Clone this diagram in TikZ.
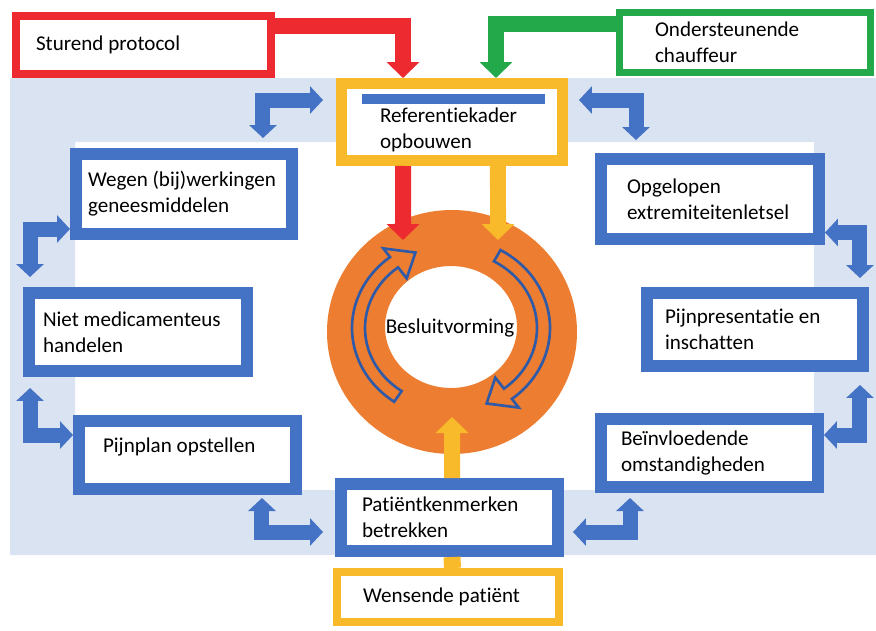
\documentclass[tikz,border=0pt]{standalone}
\usepackage{fontspec}
\setmainfont{Carlito}[Ligatures=CommonOff]
\usetikzlibrary{arrows.meta}
\hyphenpenalty=10000

\definecolor{kaderblauw}{HTML}{4472C4}
\definecolor{lijnblauw}{HTML}{2E5AA8}
\definecolor{achtergrond}{HTML}{DAE3F1}
\definecolor{protocolrood}{HTML}{EC2A2F}
\definecolor{chauffeurgroen}{HTML}{23A94A}
\definecolor{patientgeel}{HTML}{F8B92A}
\definecolor{ringoranje}{HTML}{ED7D31}

\begin{document}
\begin{tikzpicture}[x=0.02cm, y=-0.02cm,
    tekst/.style={font=\fontsize{12}{14.7}\selectfont},
    blok/.style={tekst, draw=kaderblauw, line width=0.24cm, fill=white, align=left, inner sep=2pt,
      execute at begin node={\spaceskip=0pt\xspaceskip=0pt\relax}},
    pijl/.style={draw=kaderblauw, line width=0.3cm, line join=miter,
      {Triangle[width=0.54cm,length=0.26cm]}-{Triangle[width=0.54cm,length=0.26cm]}},
    blokpijl/.style={line width=0.32cm, line join=miter, -{Triangle[width=0.64cm,length=0.32cm]}},
    draaipijl/.style={fill=ringoranje, draw=lijnblauw, line width=1.5pt, shift={(451,328)}}]

    \useasboundingbox (0,0) rectangle (876,630);

    % Achtergrondkader
    \fill[achtergrond, even odd rule] (10,78) rectangle (876,555) (75,142) rectangle (814,490);

    % Ring besluitvorming
    \fill[ringoranje, even odd rule] (452,332) ellipse [x radius=125, y radius=122]
        (451,327) ellipse [x radius=66, y radius=61];
    \filldraw[draaipijl] (125:99 and 90) arc[start angle=125, end angle=232, x radius=99, y radius=90]
        -- (232:110 and 101) -- (247:91 and 82) -- (232:72 and 63) -- (232:86 and 77)
        arc[start angle=232, end angle=125, x radius=86, y radius=77] -- cycle;
    \filldraw[draaipijl] (-60:99 and 90) arc[start angle=-60, end angle=52, x radius=99, y radius=90]
        -- (52:110 and 101) -- (67:91 and 82) -- (52:72 and 63) -- (52:86 and 77)
        arc[start angle=52, end angle=-60, x radius=86, y radius=77] -- cycle;
    \node[tekst] (besluit) at (450,328) {Besluitvorming};
    \coordinate (ringrood) at (403,240);
    \coordinate (ringgeel) at (498,240);
    \coordinate (ringonder) at (452,417);

    % Bovenste blokken
    \node[blok, draw=protocolrood, line width=0.16cm, minimum width=5.1cm, minimum height=1.16cm,
        text width=4.3cm] (sturend) at (143.5,45) {Sturend protocol};
    \node[blok, draw=chauffeurgroen, line width=0.14cm, minimum width=5.02cm, minimum height=1.2cm,
        text width=3.6cm] (chauffeur) at (745,42.5) {Ondersteunende\\chauffeur};
    \node[blok, draw=patientgeel, line width=0.22cm, minimum width=4.42cm, minimum height=1.54cm,
        text width=2.88cm] (ref) at (452,122) {\rule{0pt}{0.6cm}Referentiekader\\opbouwen};
    \fill[kaderblauw] (362,94) rectangle (545,104);

    % Linker blokken
    \node[blok, minimum width=4.32cm, minimum height=1.6cm, text width=3.84cm] (wegen) at (184,194)
        {Wegen~(bij)werkingen\\geneesmiddelen};
    \node[blok, minimum width=4.36cm, minimum height=1.56cm, text width=3.8cm] (niet) at (138,332)
        {Niet~medicamenteus\\handelen};
    \node[blok, minimum width=4.34cm, minimum height=1.36cm, text width=3.38cm] (pijnplan) at (187.5,455)
        {\raisebox{0.4cm}{Pijnplan opstellen}};

    % Rechter blokken
    \node[blok, minimum width=4.36cm, minimum height=1.6cm, text width=3.32cm] (opgelopen) at (710,199)
        {Opgelopen\\extremiteitenletsel};
    \node[blok, minimum width=4.32cm, minimum height=1.46cm, text width=3.6cm] (pijnpresentatie) at (755,329.5)
        {Pijnpresentatie~en\\inschatten};
    \node[blok, minimum width=4.34cm, minimum height=1.36cm, text width=3.54cm] (beinvloeding) at (709.5,453)
        {Beïnvloedende\\omstandigheden};

    % Onderste blokken
    \node[blok, minimum width=4.34cm, minimum height=1.34cm, text width=3.5cm] (patient) at (449.5,517.5)
        {Patiëntkenmerken\\betrekken};
    \node[blok, draw=patientgeel, line width=0.16cm, minimum width=4.44cm, minimum height=1cm,
        text width=3.4cm] (wensend) at (448,597) {Wensende~patiënt};

    % Invoerpijlen
    \draw[blokpijl, protocolrood] ([yshift=0.39cm]sturend.east) -| ([xshift=-0.98cm]ref.north);
    \draw[blokpijl, chauffeurgroen] ([yshift=0.38cm]chauffeur.west) -| ([xshift=0.88cm]ref.north);
    \draw[blokpijl, protocolrood] ([xshift=-0.98cm]ref.south) -- (ringrood);
    \draw[blokpijl, patientgeel] ([xshift=0.92cm]ref.south) -- (ringgeel);
    \draw[blokpijl, patientgeel] ([xshift=0.05cm]patient.north) -- (ringonder);
    \draw[patientgeel, line width=0.34cm] ([xshift=0.05cm]patient.south) -- ([xshift=0.09cm]wensend.north);

    % Wisselpijlen
    \draw[pijl, shorten <=0.26cm, shorten >=0.2cm] ([yshift=0.44cm]ref.west) -| ([xshift=1.58cm]wegen.north);
    \draw[pijl, shorten <=0.22cm, shorten >=0.26cm] ([yshift=0.44cm]ref.east) -| ([xshift=-1.48cm]opgelopen.north);
    \draw[pijl, shorten >=0.2cm] ([yshift=-0.7cm]wegen.west) -| ([xshift=-2.16cm]niet.north);
    \draw[pijl, shorten <=0.22cm] ([xshift=-2.16cm]niet.south) |- ([yshift=0.4cm]pijnplan.west);
    \draw[pijl, shorten >=0.18cm] ([yshift=-0.67cm]opgelopen.east) -| ([xshift=2.1cm]pijnpresentatie.north);
    \draw[pijl, shorten <=0.26cm] ([xshift=2.1cm]pijnpresentatie.south) |- ([yshift=0.36cm]beinvloeding.east);
    \draw[pijl, shorten <=0.06cm, shorten >=0.24cm] ([xshift=1.49cm]pijnplan.south) |- ([yshift=-0.29cm]patient.west);
    \draw[pijl, shorten <=0.1cm, shorten >=0.18cm] ([xshift=-1.59cm]beinvloeding.south) |- ([yshift=-0.29cm]patient.east);

\end{tikzpicture}
\end{document}
